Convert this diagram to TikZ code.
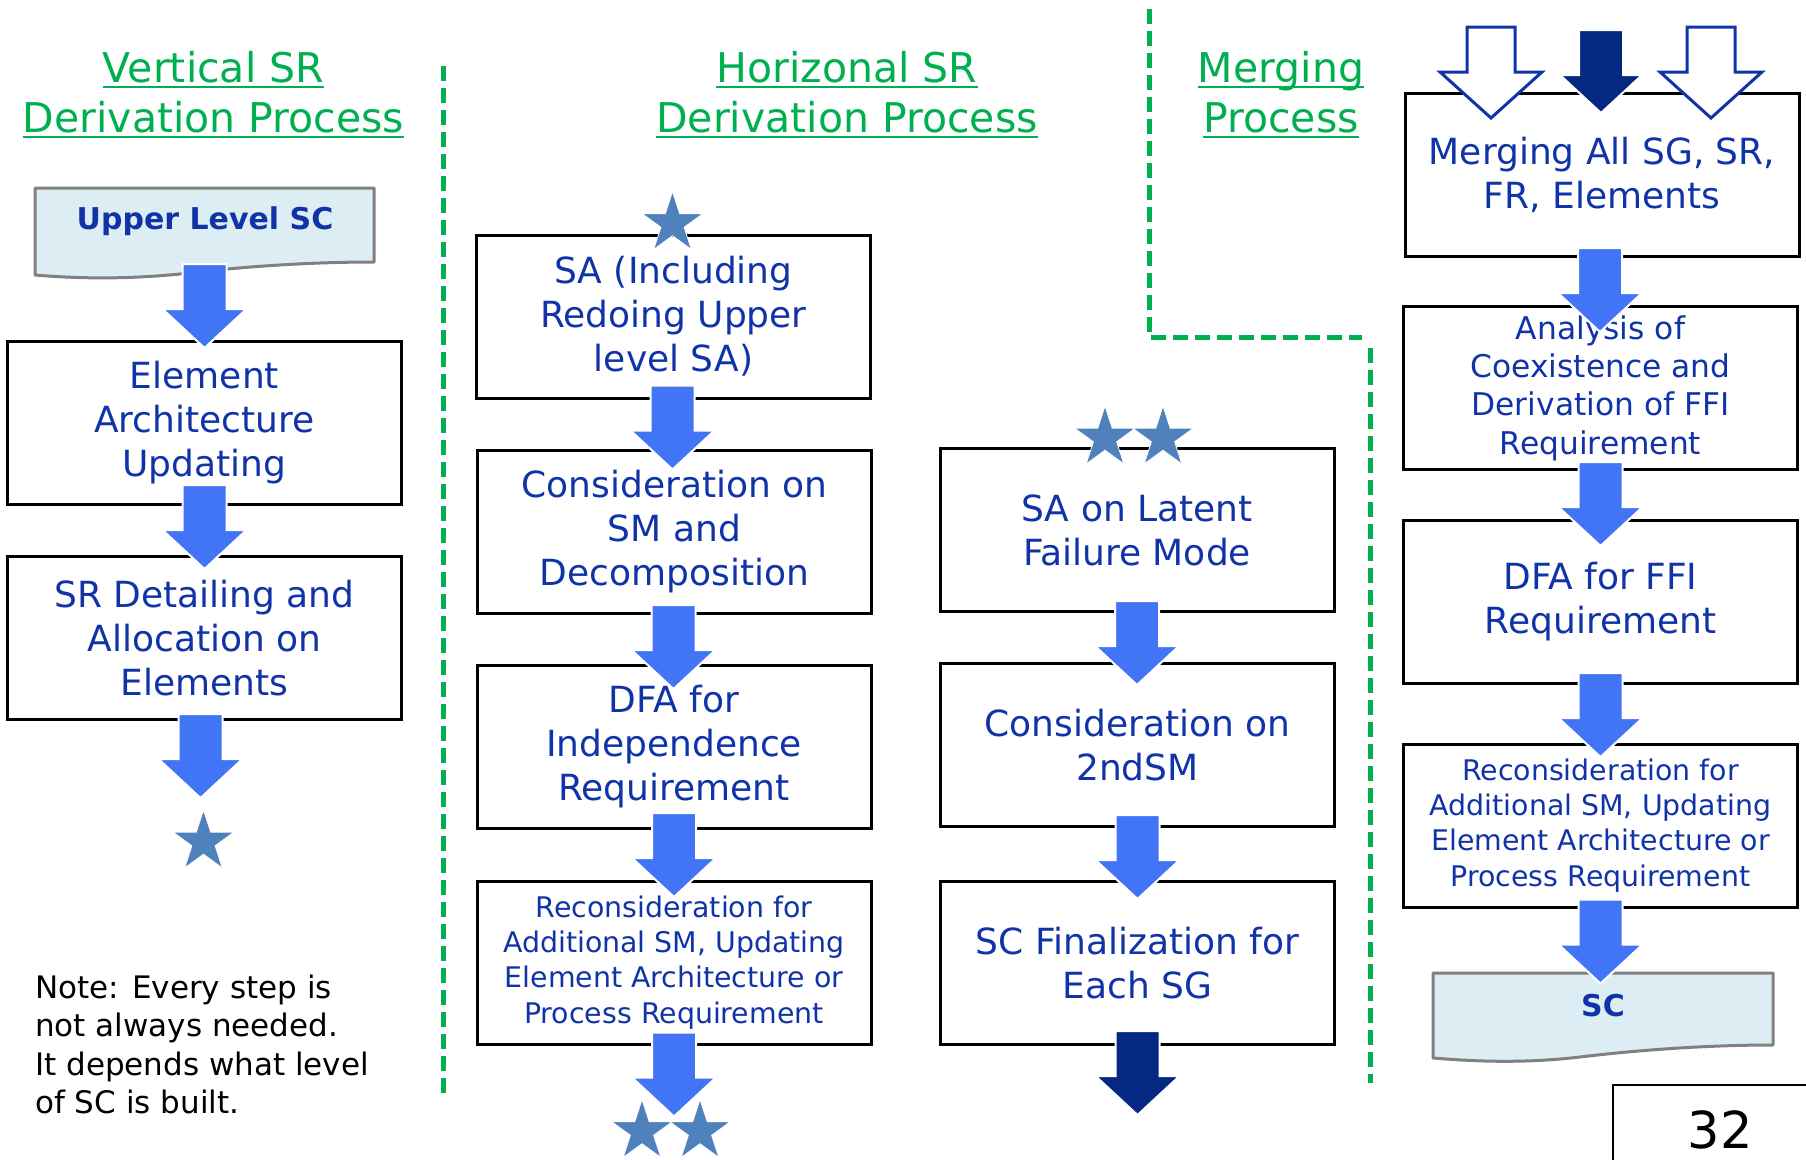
\documentclass[tikz,border=0pt]{standalone}
\usepackage{fontspec}
\setmainfont{DejaVu Sans}
\usetikzlibrary{shapes.geometric,calc}

\definecolor{headgreen}{RGB}{0,176,80}
\definecolor{textblue}{RGB}{16,52,168}
\definecolor{arrowblue}{RGB}{66,116,246}
\definecolor{navy}{RGB}{5,40,130}
\definecolor{starblue}{RGB}{79,129,189}
\definecolor{docfill}{RGB}{220,237,243}
\definecolor{docline}{RGB}{128,128,128}

% block arrow: [style]{top centre}{shaft half width}{head half width}{shaft length}{head length}
\newcommand{\blkarrow}[6][]{%
  \path[#1] (#2) ++({-#3},0) -- ++({2*#3},0) -- ++(0,{#5}) -- ++({#4-#3},0)
    -- ++({-#4},{#6}) -- ++({-#4},{-#6}) -- ++({#4-#3},0) -- cycle;}
\newcommand{\stdarrow}[2][flowarrow]{\blkarrow[#1]{#2}{22}{42}{45}{39}}

\begin{document}
\begin{tikzpicture}[x=1pt,y=-1pt,
  heading/.style={anchor=base, inner sep=0pt, text=headgreen,
    font={\fontsize{41}{48}\selectfont}},
  headrule/.style={draw=headgreen, line width=2.6pt},
  divider/.style={draw=headgreen, line width=5pt, dash pattern=on 15pt off 7pt},
  stepbox/.style={draw=black, line width=3pt, fill=white, minimum width=394pt,
    minimum height=163pt, inner sep=0pt, align=center, text=textblue,
    font={\fontsize{36}{44}\selectfont}},
  smalltext/.style={font={\fontsize{28.4}{35.3}\selectfont}},
  midtext/.style={font={\fontsize{31.3}{38.4}\selectfont}},
  docshape/.style={draw=docline, fill=docfill, line width=3pt, line join=round},
  doctext/.style={text=textblue, inner sep=0pt, font={\fontsize{30}{36}\bfseries\selectfont}},
  flowarrow/.style={fill=arrowblue, draw=white, line width=2pt},
  navyarrow/.style={fill=navy, draw=white, line width=2pt},
  openarrow/.style={fill=white, draw=textblue, line width=3pt},
  starmark/.style={star, star points=5, star point ratio=2.618, minimum size=64pt,
    inner sep=0pt, fill=starblue, draw=white, line width=0.8pt},
  notetext/.style={anchor=base west, inner sep=0pt, align=left,
    font={\fontsize{31}{38.5}\selectfont}}
]
\useasboundingbox (0,0) rectangle (1806,1159);

% ---- column headings ----
\node[heading] (vh1) at (213.5,82) {Vertical SR};
\node[heading] (vh2) at (213.5,132) {Derivation Process};
\node[heading] (hh1) at (847,82) {Horizonal SR};
\node[heading] (hh2) at (847,132) {Derivation Process};
\node[heading] (mh1) at (1281,82) {Merging};
\node[heading] (mh2) at (1281,132) {Process};
\foreach \h in {vh1,vh2,hh1,hh2,mh1,mh2}
  \draw[headrule] ([yshift=-5pt]\h.base west) -- ([yshift=-5pt]\h.base east);

% ---- dashed dividers ----
\draw[divider] (443,66) -- (443,1093);
\draw[divider] (1149,9) -- (1149,337) -- (1362,337);
\draw[divider] (1370,348) -- (1370,1083);

% ---- vertical SR derivation ----
\draw[docshape] (35,188) -- (374,188) -- (374,262)
  .. controls (300,262) and (230,268) .. (180,274)
  .. controls (120,280) and (70,278) .. (35,275) -- cycle;
\node[doctext] (upsc) at (205,221) {Upper Level SC};
\node[stepbox] (elem) at (204.5,423) {Element\\Architecture\\Updating};
\node[stepbox] (srdet) at (204.5,638) {SR Detailing and\\Allocation on\\Elements};
\stdarrow{$(elem.north)+(0,-76)$}
\stdarrow{$(elem.south)+(0,-21)$}
\stdarrow{$(srdet.south)+(-4,-7)$}
\node[starmark] (vstar) at ($(srdet.south)+(-1,121)$) {};

% the base anchor of a multi-line node sits on its last line
\node[notetext] (note) at (35,1113.5)
  {Note: Every step is\\not always needed.\\It depends what level\\of SC is built.};

% ---- horizontal SR derivation ----
\node[stepbox] (sa) at (673.5,316.5) {SA (Including\\Redoing Upper\\level SA)};
\node[stepbox] (csm) at (674.5,532) {Consideration on\\SM and\\Decomposition};
\node[stepbox] (dfai) at (674,747) {DFA for\\Independence\\Requirement};
\node[stepbox, smalltext] (recm) at (674,962.5)
  {Reconsideration for\\Additional SM, Updating\\Element Architecture or\\Process Requirement};
\stdarrow{$(sa.south)+(-1,-14)$}
\stdarrow{$(csm.south)+(-1,-10)$}
\stdarrow{$(dfai.south)+(0,-17)$}
\stdarrow{$(recm.south)+(0,-13)$}
\node[starmark] (hstar) at ($(sa.north)+(-1,-10)$) {};
\node[starmark] (ostar1) at ($(recm.south)+(-32,86)$) {};
\node[starmark] (ostar2) at ($(recm.south)+(26,86)$) {};

\node[stepbox] (latent) at (1137,530) {SA on Latent\\Failure Mode};
\node[stepbox] (c2sm) at (1137.5,745) {Consideration on\\2ndSM};
\node[stepbox] (scfin) at (1137.5,963) {SC Finalization for\\Each SG};
\stdarrow{$(latent.south)+(0,-12)$}
\stdarrow{$(c2sm.south)+(0,-13)$}
\stdarrow[navyarrow]{$(scfin.south)+(0,-15)$}
\node[starmark] (tstar1) at ($(latent.north)+(-32,-9)$) {};
\node[starmark] (tstar2) at ($(latent.north)+(26,-9)$) {};

% ---- merging process ----
\node[stepbox] (merge) at (1602,175) {Merging All SG, SR,\\FR, Elements};
\node[stepbox, midtext] (anal) at (1600.5,388)
  {Analysis of\\Coexistence and\\Derivation of FFI\\Requirement};
\node[stepbox] (dffi) at (1600.5,602) {DFA for FFI\\Requirement};
\node[stepbox, smalltext] (recr) at (1600.5,825.5)
  {Reconsideration for\\Additional SM, Updating\\Element Architecture or\\Process Requirement};
\draw[docshape] (1433,973) -- (1773,973) -- (1773,1045)
  .. controls (1700,1045) and (1630,1051) .. (1580,1057)
  .. controls (1520,1064) and (1470,1061) .. (1433,1058) -- cycle;
\node[doctext] (sc) at (1603,1006) {SC};

\blkarrow[openarrow]{$(merge.north)+(-111,-65)$}{24}{51}{45}{46}
\blkarrow[navyarrow]{$(merge.north)+(-1,-62)$}{22}{41}{45}{38}
\blkarrow[openarrow]{$(merge.north)+(109,-65)$}{24}{51}{45}{46}
\stdarrow{$(merge.south)+(-2,-10)$}
\stdarrow{$(anal.south)+(0,-9)$}
\stdarrow{$(dffi.south)+(0,-12)$}
\stdarrow{$(recr.south)+(0,-9)$}

% ---- page number ----
\draw[line width=2pt] (1613,1162) -- (1613,1085) -- (1808,1085);
\node[anchor=base, inner sep=0pt, font={\fontsize{51}{60}\selectfont}] (pageno) at (1720,1148) {32};
\end{tikzpicture}
\end{document}
